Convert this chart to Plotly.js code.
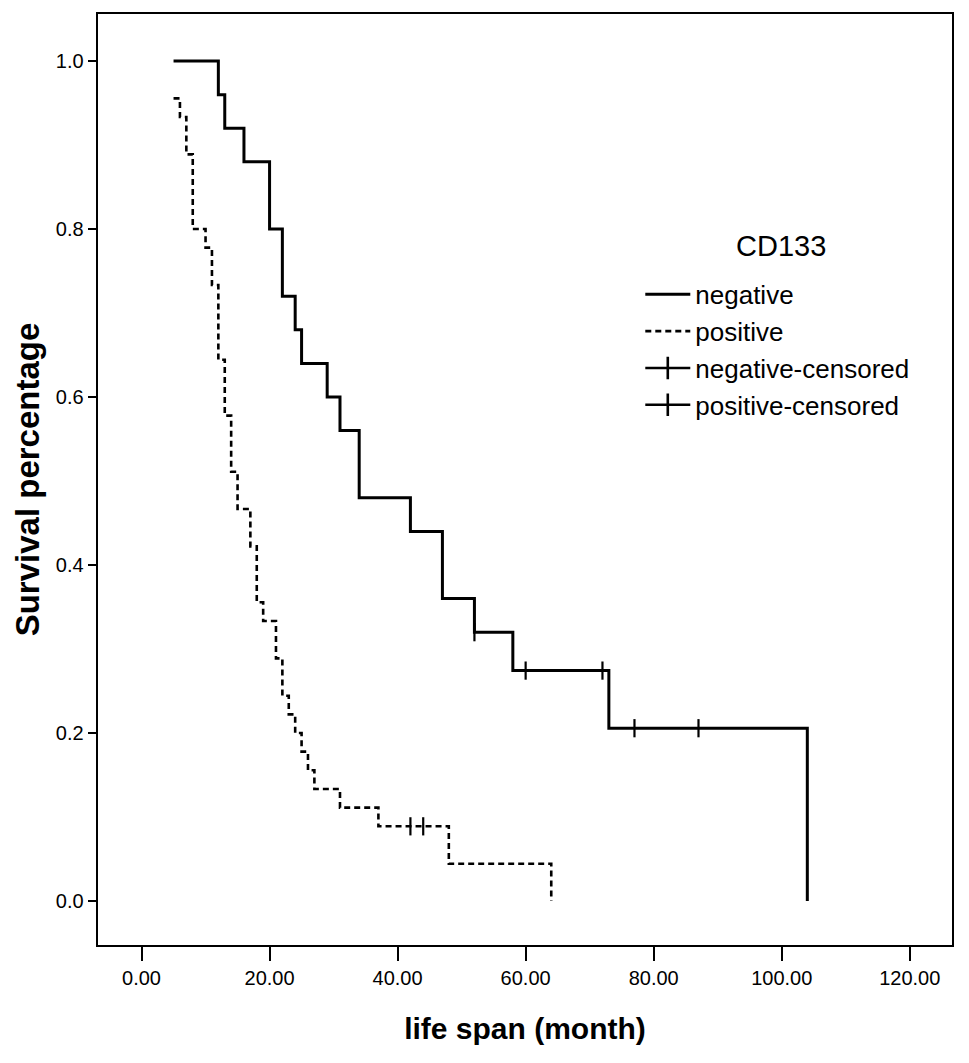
<!DOCTYPE html>
<html>
<head>
<meta charset="utf-8">
<script src="https://cdn.plot.ly/plotly-3.0.1.min.js"></script>
<style>html,body{margin:0;padding:0;background:#fff}#chart{width:969px;height:1063px}</style>
</head>
<body>
<div id="chart"></div>
<script>
// Kaplan-Meier step data (time in months, survival after event)
const negTime = [5, 12, 13, 16, 20, 22, 24, 25, 29, 31, 34, 42, 47, 52, 58, 73, 104];
const negSurv = [1.0, 0.96, 0.92, 0.88, 0.80, 0.72, 0.68, 0.64, 0.60, 0.56, 0.48, 0.44, 0.36, 0.32, 0.2743, 0.2057, 0.0];
const posTime = [5, 6, 7, 8, 10, 11, 12, 13, 14, 15, 17, 18, 19, 21, 22, 23, 24, 25, 26, 27, 31, 37, 48, 64];
const posSurv = [0.9556, 0.9333, 0.8889, 0.80, 0.7778, 0.7333, 0.6444, 0.5778, 0.5111, 0.4667, 0.4222, 0.3556, 0.3333, 0.2889, 0.2444, 0.2222, 0.20, 0.1778, 0.1556, 0.1333, 0.1111, 0.0889, 0.0444, 0.0];
const negCensTime = [52, 60, 72, 77, 87];
const negCensSurv = [0.32, 0.2743, 0.2743, 0.2057, 0.2057];
const posCensTime = [42, 44];
const posCensSurv = [0.0889, 0.0889];
const xTickVals = [0, 20, 40, 60, 80, 100, 120];
const xTickText = ["0.00", "20.00", "40.00", "60.00", "80.00", "100.00", "120.00"];
const yTickVals = [0, 0.2, 0.4, 0.6, 0.8, 1.0];
const yTickText = ["0.0", "0.2", "0.4", "0.6", "0.8", "1.0"];
const legendTitle = "CD133";

const FONT = "Liberation Sans, Arial, sans-serif";

const traces = [
  {x: negTime, y: negSurv, mode: 'lines', name: 'negative', line: {shape: 'hv', color: '#000', width: 3},
   legendgroup: 'a', showlegend: true},
  {x: posTime, y: posSurv, mode: 'lines', name: 'positive', line: {shape: 'hv', color: '#000', width: 2.6, dash: '6px,4px'},
   legendgroup: 'b', showlegend: true},
  {x: negCensTime, y: negCensSurv, mode: 'markers', name: 'negative-censored', showlegend: false,
   marker: {symbol: 'line-ns-open', size: 13, color: '#000', line: {color: '#000', width: 2.2}}},
  {x: posCensTime, y: posCensSurv, mode: 'markers', name: 'positive-censored', showlegend: false,
   marker: {symbol: 'line-ns-open', size: 13, color: '#000', line: {color: '#000', width: 2.2}}},
  // legend entries for censored marks (line with a tick)
  {x: [null], y: [null], mode: 'lines+markers', name: 'negative-censored', legendgroup: 'c',
   line: {color: '#000', width: 2.6}, marker: {symbol: 'line-ns-open', size: 20, color: '#000', line: {color: '#000', width: 2.6}}},
  {x: [null], y: [null], mode: 'lines+markers', name: 'positive-censored', legendgroup: 'd',
   line: {color: '#000', width: 2.6}, marker: {symbol: 'line-ns-open', size: 20, color: '#000', line: {color: '#000', width: 2.6}}}
];

const layout = {
  width: 969, height: 1063,
  margin: {l: 98, r: 17, t: 14, b: 118},
  paper_bgcolor: '#fff', plot_bgcolor: '#fff',
  font: {family: FONT, color: '#000'},
  xaxis: {
    range: [-6.8, 126.6], tickvals: xTickVals, ticktext: xTickText,
    ticks: 'outside', ticklen: 14, tickwidth: 2, tickcolor: '#000',
    showline: true, linecolor: '#000', linewidth: 2.4, mirror: true,
    showgrid: false, zeroline: false,
    tickfont: {family: FONT, size: 20, color: '#000'},
    title: {text: '<b>life span (month)</b>', font: {family: FONT, size: 30, color: '#000'}, standoff: 30}
  },
  yaxis: {
    range: [-0.0524, 1.056], tickvals: yTickVals, ticktext: yTickText,
    ticks: 'outside', ticklen: 8, tickwidth: 2, tickcolor: '#000',
    showline: true, linecolor: '#000', linewidth: 2.4, mirror: true,
    showgrid: false, zeroline: false,
    tickfont: {family: FONT, size: 20, color: '#000'},
    title: {text: '<b>Survival percentage</b>', font: {family: FONT, size: 33, color: '#000'}, standoff: 6}
  },
  legend: {
    x: 0.635, y: 0.724, xanchor: 'left', yanchor: 'top',
    bgcolor: 'rgba(0,0,0,0)', borderwidth: 0,
    font: {family: FONT, size: 26, color: '#000'},
    itemwidth: 45, traceorder: 'grouped', tracegroupgap: 0
  },
  annotations: [
    {text: legendTitle, xref: 'paper', yref: 'paper', x: 0.8, y: 0.751, xanchor: 'center', yanchor: 'middle',
     showarrow: false, font: {family: FONT, size: 29, color: '#000'}}
  ],
  showlegend: true
};

Plotly.newPlot('chart', traces, layout, {displayModeBar: false, staticPlot: true});
</script>
</body>
</html>
